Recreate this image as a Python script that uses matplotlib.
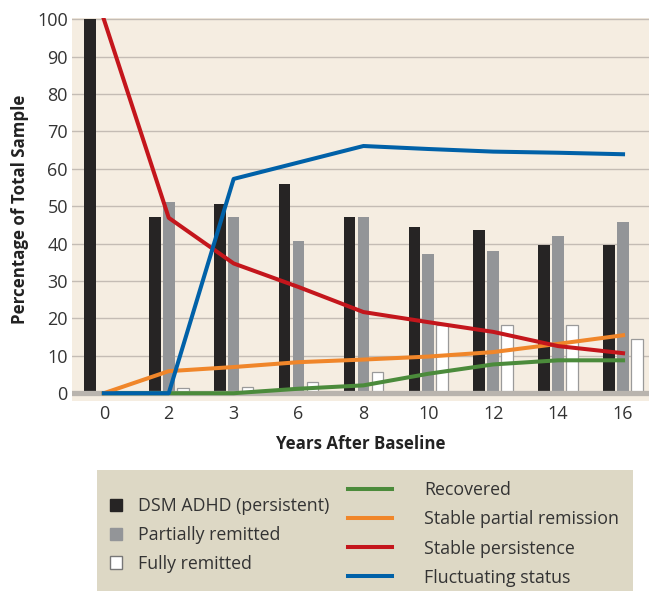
import numpy as np
import matplotlib
matplotlib.use("Agg")
import matplotlib.pyplot as plt
from matplotlib.patches import Patch, Rectangle
from matplotlib.lines import Line2D

plt.rcParams['font.family'] = ['Open Sans', 'DejaVu Sans']

years = ["0", "2", "3", "6", "8", "10", "12", "14", "16"]

# bars
persistent = [100, 47.1, 50.6, 56.0, 47.1, 44.4, 43.6, 39.6, 39.6]
partial = [np.nan, 51.1, 47.1, 40.7, 47.1, 37.2, 38.0, 42.0, 45.8]
full = [np.nan, 1.3, 1.7, 3.1, 5.8, 18.2, 18.3, 18.3, 14.6]

# lines
recovered = [0, 0, 0, 1.2, 2.1, 5.2, 7.7, 8.8, 8.8]
stable_partial = [0, 5.9, 7.0, 8.3, 9.0, 9.8, 11.0, 13.2, 15.5]
stable_persist = [100, 46.9, 34.7, 28.4, 21.7, 19.0, 16.4, 12.6, 10.7]
fluctuating = [0, 0, 57.3, 61.7, 66.1, 65.3, 64.6, 64.3, 63.9]

x = np.arange(len(years))
w = 0.18
off = 0.215

fig = plt.figure(figsize=(6.49, 5.91), dpi=100)
ax = fig.add_axes([0.111, 0.322, 0.889, 0.648])
ax.set_facecolor('#f5ede1')

for s in ax.spines.values():
    s.set_visible(False)

ax.set_ylim(-2, 100.4)
ax.set_xlim(-0.49, 8.4)
ax.set_yticks(range(0, 101, 10))
ax.yaxis.grid(True, color='#c4bcb4', lw=1.0)
ax.set_axisbelow(True)

ax.bar(x - off, persistent, w, color='#262424', zorder=2)
ax.bar(x, partial, w, color='#939598', zorder=2)
ax.bar(x + off, full, w, color='white', edgecolor='#9a9a9a', lw=0.9, zorder=2)

ax.axhline(0, color='#b9b4ae', lw=3.8, zorder=3)

lw = 2.9
ax.plot(x, recovered, color='#4b8b3b', lw=lw, zorder=4)
ax.plot(x, stable_partial, color='#f0862a', lw=lw, zorder=4)
ax.plot(x, stable_persist, color='#c4161c', lw=lw, zorder=4)
ax.plot(x, fluctuating, color='#0061a8', lw=lw, zorder=4)

ax.set_xticks(x)
ax.set_xticklabels(years)
ax.tick_params(length=0, labelsize=13, colors='#333333')
ax.tick_params(axis='y', pad=3)
ax.tick_params(axis='x', pad=3)

ax.set_ylabel('Percentage of Total Sample', fontsize=12.2, fontweight='bold',
              color='#222222', labelpad=6)
ax.set_xlabel('Years After Baseline', fontsize=12.2, fontweight='bold',
              color='#222222', labelpad=9)

# legend box
fig.patches.append(Rectangle((97 / 649, 0), (633 - 97) / 649, (591 - 470) / 591,
                             transform=fig.transFigure, facecolor='#ddd8c5',
                             edgecolor='none', zorder=0))

bar_handles = [Patch(facecolor='#262424', edgecolor='#262424'),
               Patch(facecolor='#939598', edgecolor='#939598'),
               Patch(facecolor='white', edgecolor='#777777')]
bar_labels = ['DSM ADHD (persistent)', 'Partially remitted', 'Fully remitted']
fig.legend(bar_handles, bar_labels, loc='center left',
           bbox_to_anchor=(94 / 649, 1 - 535 / 591), frameon=False,
           fontsize=12.8, handlelength=0.7, handleheight=0.7,
           handletextpad=0.9, labelspacing=0.6, labelcolor='#333333')

line_handles = [Line2D([], [], color='#4b8b3b', lw=lw),
                Line2D([], [], color='#f0862a', lw=lw),
                Line2D([], [], color='#c4161c', lw=lw),
                Line2D([], [], color='#0061a8', lw=lw)]
line_labels = ['Recovered', 'Stable partial remission', 'Stable persistence',
               'Fluctuating status']
fig.legend(line_handles, line_labels, loc='center left',
           bbox_to_anchor=(332 / 649, 1 - 534 / 591), frameon=False,
           fontsize=12.8, handlelength=2.5, handletextpad=1.78,
           labelspacing=0.62, labelcolor='#333333')

fig.savefig('out.png', dpi=100)
